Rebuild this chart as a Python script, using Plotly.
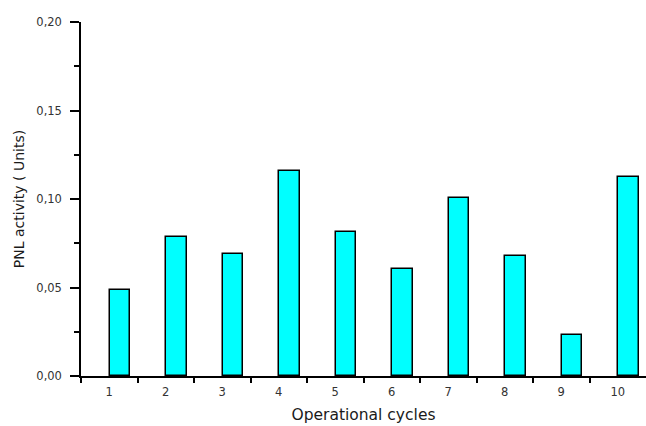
import plotly.graph_objects as go

cycles = [1, 2, 3, 4, 5, 6, 7, 8, 9, 10]
pnl_activity = [0.0485, 0.0788, 0.0687, 0.1159, 0.0811, 0.0602, 0.1003, 0.0677, 0.023, 0.1125]
x_tick_labels = [str(c) for c in cycles]
y_tick_values = [0.0, 0.05, 0.10, 0.15, 0.20]

fig = go.Figure()
fig.add_trace(go.Bar(
    x=cycles,
    y=pnl_activity,
    width=0.36,
    offset=0.01,
    marker=dict(color="#00FFFF", line=dict(color="#000000", width=1.5)),
))

tick_font = dict(family="DejaVu Sans, sans-serif", size=11.5, color="#333333")
title_font = dict(family="DejaVu Sans, sans-serif", color="#1a1a1a")

fig.update_layout(
    width=646,
    height=426,
    margin=dict(l=81, r=0, t=22, b=50, autoexpand=False),
    paper_bgcolor="white",
    plot_bgcolor="white",
    separators=", ",
    showlegend=False,
    bargap=0,
    xaxis=dict(
        range=[0.5, 10.5],
        automargin=False,
        tickmode="array",
        tickvals=cycles,
        ticktext=x_tick_labels,
        ticks="",
        showgrid=False,
        zeroline=False,
        showline=True,
        linecolor="#000000",
        linewidth=1.5,
        tickfont=tick_font,
        ticklabelstandoff=4,
        minor=dict(tickmode="array", tickvals=[0.5] + [c + 0.5 for c in cycles[:-1]],
                   ticks="outside", ticklen=5, tickwidth=1.5, tickcolor="#000000", showgrid=False),
        title=dict(text="Operational cycles", font=dict(size=15.5, **title_font), standoff=12),
    ),
    yaxis=dict(
        range=[0, 0.2],
        automargin=False,
        tickmode="array",
        tickvals=y_tick_values,
        tickformat=".2f",
        ticks="outside",
        ticklen=9,
        tickwidth=1.5,
        tickcolor="#000000",
        showgrid=False,
        zeroline=False,
        showline=True,
        linecolor="#000000",
        linewidth=1.5,
        tickfont=tick_font,
        ticklabelstandoff=6,
        minor=dict(tickmode="array", tickvals=[0.025, 0.075, 0.125, 0.175],
                   ticks="outside", ticklen=5, tickwidth=1.5, tickcolor="#000000", showgrid=False),
        title=dict(text="PNL activity ( Units)", font=dict(size=14, **title_font), standoff=8),
    ),
)

fig.write_html("out.html", config={"displayModeBar": False},
               post_script="document.body.style.margin='0';document.body.style.overflow='hidden';")
